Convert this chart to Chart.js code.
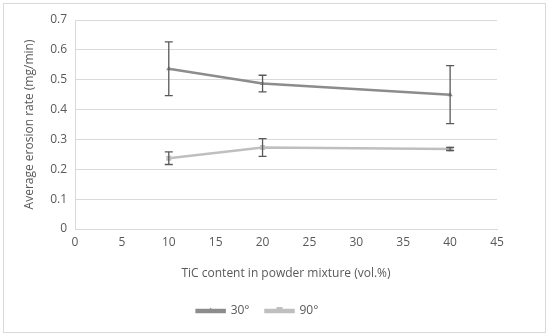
<!DOCTYPE html>
<html>
<head>
<meta charset="utf-8">
<script src="https://cdn.jsdelivr.net/npm/chart.js@4.4.0/dist/chart.umd.min.js"></script>
<style>
    body { margin: 0; background: #fff; }
    #wrap { position: absolute; left: 3px; top: 3px; width: 541px; height: 328px; border: 1px solid #d9d9d9; }
    #chart { position: absolute; left: 0; top: 0; }
</style>
</head>
<body>
<div id="wrap"></div>
<canvas id="chart" width="550" height="335"></canvas>
<script>
const tic = [10, 20, 40];
const rate30 = [0.537, 0.487, 0.450];
const err30 = [0.090, 0.028, 0.097];
const rate90 = [0.237, 0.273, 0.268];
const err90 = [0.021, 0.030, 0.005];
const xTicks = [0, 5, 10, 15, 20, 25, 30, 35, 40, 45];

const errors = [err30, err90];

// draws the vertical error bars from the data, through the scales
const errorBars = {
    id: 'errorBars',
    afterDatasetsDraw(chart) {
        const ctx = chart.ctx;
        const y = chart.scales.y;
        ctx.save();
        ctx.strokeStyle = '#595959';
        ctx.lineWidth = 1.3;
        chart.data.datasets.forEach((ds, i) => {
            const meta = chart.getDatasetMeta(i);
            meta.data.forEach((pt, j) => {
                const v = ds.data[j].y;
                const e = errors[i][j];
                const top = y.getPixelForValue(v + e);
                const bot = y.getPixelForValue(v - e);
                ctx.beginPath();
                ctx.moveTo(pt.x, top);
                ctx.lineTo(pt.x, bot);
                ctx.moveTo(pt.x - 4, top);
                ctx.lineTo(pt.x + 4, top);
                ctx.moveTo(pt.x - 4, bot);
                ctx.lineTo(pt.x + 4, bot);
                ctx.stroke();
            });
        });
        ctx.restore();
    }
};

// small marker in the middle of each legend line, like the original
const legendMarkers = {
    id: 'legendMarkers',
    afterDraw(chart) {
        const ctx = chart.ctx;
        const boxes = chart.legend.legendHitBoxes;
        ctx.save();
        chart.data.datasets.forEach((ds, i) => {
            const b = boxes[i];
            const cx = b.left + 14;
            const cy = b.top + b.height / 2;
            ctx.fillStyle = ds.backgroundColor;
            ctx.beginPath();
            if (ds.pointStyle === 'triangle') {
                ctx.moveTo(cx, cy - 3.5);
                ctx.lineTo(cx + 3.5, cy + 2);
                ctx.lineTo(cx - 3.5, cy + 2);
                ctx.closePath();
            } else {
                ctx.rect(cx - 3, cy - 4, 6, 6);
            }
            ctx.fill();
        });
        ctx.restore();
    }
};

const font = { family: "'Open Sans', 'Noto Sans', sans-serif", size: 12 };

new Chart(document.getElementById('chart').getContext('2d'), {
    type: 'scatter',
    data: {
        datasets: [
            {
                label: '30°',
                data: tic.map((x, i) => ({ x: x, y: rate30[i] })),
                showLine: true,
                borderColor: '#8c8c8c',
                backgroundColor: '#8c8c8c',
                borderWidth: 2.5,
                pointStyle: 'triangle',
                pointRadius: 3,
                pointBorderWidth: 0
            },
            {
                label: '90°',
                data: tic.map((x, i) => ({ x: x, y: rate90[i] })),
                showLine: true,
                borderColor: '#bfbfbf',
                backgroundColor: '#bfbfbf',
                borderWidth: 2.5,
                pointStyle: 'rect',
                pointRadius: 3.5,
                pointBorderWidth: 0
            }
        ]
    },
    options: {
        responsive: false,
        animation: false,
        layout: { padding: { left: 18, right: 53, top: 20, bottom: 8 } },
        scales: {
            x: {
                type: 'linear',
                min: 0,
                max: 45,
                afterBuildTicks: axis => { axis.ticks = xTicks.map(v => ({ value: v })); },
                grid: { display: false, drawTicks: false },
                border: { color: '#d9d9d9', width: 1 },
                ticks: { color: '#595959', font: font, padding: 6 },
                title: { display: true, text: 'TiC content in powder mixture (vol.%)', color: '#595959', font: font, padding: { top: 10, bottom: 8 } },
                afterFit: axis => { axis.height = 60; }
            },
            y: {
                min: 0,
                max: 0.7,
                ticks: { stepSize: 0.1, color: '#595959', font: font, padding: 8, callback: v => Math.round(v * 10) / 10 },
                grid: { color: '#d9d9d9', drawTicks: false },
                border: { color: '#d9d9d9', width: 1 },
                title: { display: true, text: 'Average erosion rate (mg/min)', color: '#595959', font: font },
                afterFit: axis => { axis.width = 57; }
            }
        },
        plugins: {
            legend: {
                position: 'bottom',
                labels: {
                    color: '#595959',
                    font: font,
                    boxWidth: 28,
                    boxHeight: 2,
                    padding: 16
                }
            },
            tooltip: { enabled: false }
        }
    },
    plugins: [errorBars, legendMarkers]
});
</script>
</body>
</html>
